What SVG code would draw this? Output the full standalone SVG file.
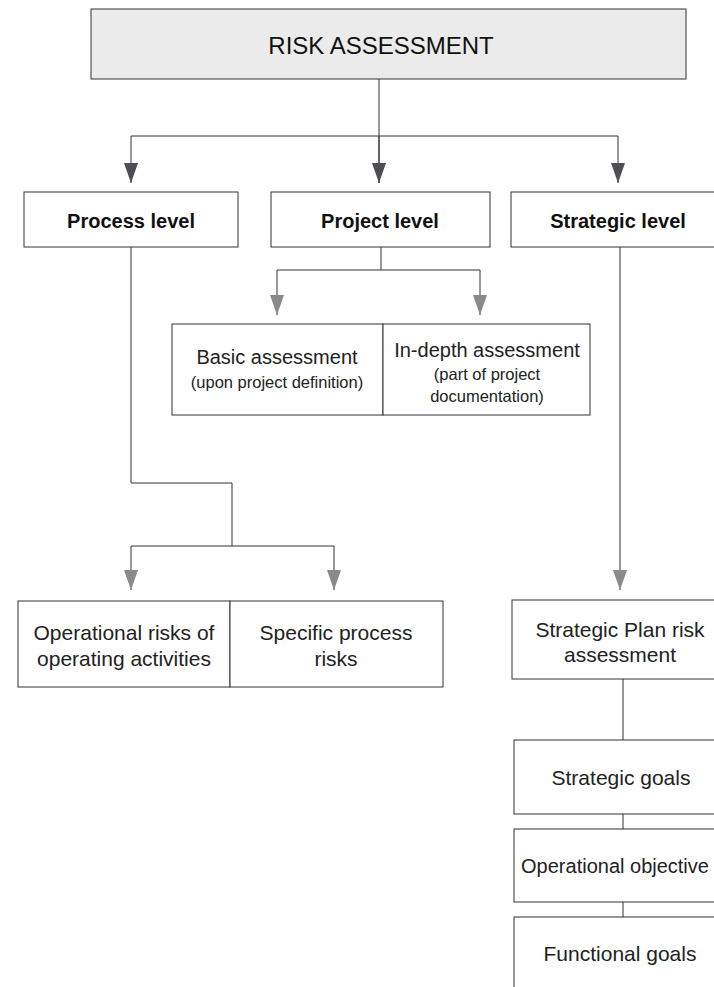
<svg xmlns="http://www.w3.org/2000/svg" width="714" height="987" viewBox="0 0 714 987">
<defs>
<marker id="ad" markerUnits="userSpaceOnUse" markerWidth="16" markerHeight="22" viewBox="0 0 16 22" refX="8" refY="21" orient="0">
<path d="M1,1 L15,1 L8,21 Z" fill="#4d4f53"/>
</marker>
<marker id="ag" markerUnits="userSpaceOnUse" markerWidth="16" markerHeight="22" viewBox="0 0 16 22" refX="8" refY="21" orient="0">
<path d="M1,1 L15,1 L8,21 Z" fill="#8a8a8a"/>
</marker>
<style>
.box{fill:#fff;stroke:#333;stroke-width:1}
.top{fill:#ebebeb;stroke:#333;stroke-width:1}
.ln{fill:none;stroke:#333;stroke-width:1}
.t{font-family:"Liberation Sans",Arial,sans-serif;font-size:21px;fill:#222;text-anchor:middle}
.b{font-family:"Liberation Sans",Arial,sans-serif;font-size:20px;font-weight:bold;fill:#111;text-anchor:middle}
.s{font-family:"Liberation Sans",Arial,sans-serif;font-size:16.5px;fill:#222;text-anchor:middle}
</style>
</defs>
<g id="connectors">
<path class="ln" d="M379,79 V183"/>
<path class="ln" d="M131,136 H618"/>
<path class="ln" d="M131,136 V183" marker-end="url(#ad)"/>
<path class="ln" d="M379,136 V183" marker-end="url(#ad)"/>
<path class="ln" d="M618,136 V183" marker-end="url(#ad)"/>
<path class="ln" d="M381,247 V270 M277,270 H480"/>
<path class="ln" d="M277,270 V315" marker-end="url(#ag)"/>
<path class="ln" d="M480,270 V315" marker-end="url(#ag)"/>
<path class="ln" d="M131,247 V483 H232 V546 M131,546 H334"/>
<path class="ln" d="M131,546 V590" marker-end="url(#ag)"/>
<path class="ln" d="M334,546 V590" marker-end="url(#ag)"/>
<path class="ln" d="M620,247 V590" marker-end="url(#ag)"/>
<path class="ln" d="M623,679 V740 M623,814 V829 M623,902 V917"/>
</g>
<g id="risk-assessment">
<rect class="top" x="91" y="9" width="595" height="70"/>
<text class="t" x="381" y="54" style="font-size:24px;fill:#111">RISK ASSESSMENT</text>
</g>
<g id="process-level">
<rect class="box" x="24" y="192" width="214" height="55"/>
<text class="b" x="131" y="228">Process level</text>
</g>
<g id="project-level">
<rect class="box" x="271" y="192" width="219" height="55"/>
<text class="b" x="380" y="228">Project level</text>
</g>
<g id="strategic-level">
<rect class="box" x="511" y="192" width="220" height="55"/>
<text class="b" x="618" y="228">Strategic level</text>
</g>
<g id="basic-assessment">
<rect class="box" x="172" y="324" width="211" height="91"/>
<text class="t" x="277" y="364" style="font-size:20px">Basic assessment</text>
<text class="s" x="277" y="388">(upon project definition)</text>
</g>
<g id="in-depth-assessment">
<rect class="box" x="383" y="324" width="207" height="91"/>
<text class="t" x="487" y="357" style="font-size:20px">In-depth assessment</text>
<text class="s" x="487" y="380">(part of project</text>
<text class="s" x="487" y="402">documentation)</text>
</g>
<g id="operational-risks">
<rect class="box" x="18" y="601" width="212" height="86"/>
<text class="t" x="124" y="640">Operational risks of</text>
<text class="t" x="124" y="666">operating activities</text>
</g>
<g id="specific-process-risks">
<rect class="box" x="230" y="601" width="213" height="86"/>
<text class="t" x="336" y="640">Specific process</text>
<text class="t" x="336" y="666">risks</text>
</g>
<g id="strategic-plan">
<rect class="box" x="512" y="600" width="220" height="79"/>
<text class="t" x="620" y="637">Strategic Plan risk</text>
<text class="t" x="620" y="662">assessment</text>
</g>
<g id="strategic-goals">
<rect class="box" x="514" y="740" width="220" height="74"/>
<text class="t" x="621" y="785">Strategic goals</text>
</g>
<g id="operational-objectives">
<rect class="box" x="514" y="829" width="220" height="73"/>
<text class="t" x="615" y="873" style="font-size:20px">Operational objective</text>
</g>
<g id="functional-goals">
<rect class="box" x="514" y="917" width="220" height="90"/>
<text class="t" x="620" y="961">Functional goals</text>
</g>
</svg>
